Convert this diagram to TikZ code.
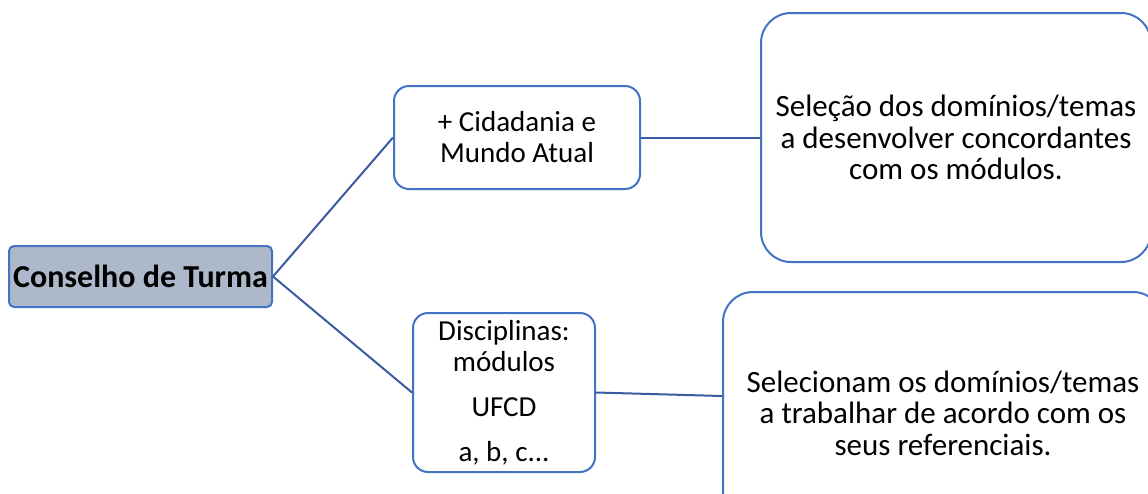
\documentclass[tikz,border=0pt]{standalone}
\usepackage{fontspec}
\setmainfont{Carlito}
\definecolor{bordc}{HTML}{4472C4}
\definecolor{linec}{HTML}{3A5BA0}
\definecolor{fillc}{HTML}{ADB9CA}
\begin{document}
\begin{tikzpicture}[x=1pt,y=-1pt,
  box/.style={draw=bordc, line width=2pt, fill=white, align=center, inner sep=0pt,
    font=\fontsize{29}{31}\selectfont, text=black},
  bigtext/.style={font=\fontsize{31}{31.5}\selectfont},
  conn/.style={draw=linec, line width=2pt}]
\useasboundingbox (0,0) rectangle (1148,493);
\clip (0,0) rectangle (1148,493);
\node[box, fill=fillc, rounded corners=5pt, minimum width=263pt, minimum height=61pt,
  font=\fontsize{32}{34}\selectfont\bfseries] (ct) at (140.5,276.5) {Conselho de Turma};
\node[box, rounded corners=15pt, minimum width=246pt, minimum height=103pt] (cid) at (517,137.5)
  {+ Cidadania e\\Mundo Atual};
\node[box, rounded corners=15pt, minimum width=182pt, minimum height=159pt] (disc) at (504,392.5)
  {Disciplinas:\\módulos\\[14pt]UFCD\\[14pt]a, b, c...};
\node[box, bigtext, rounded corners=30pt, minimum width=390pt, minimum height=249pt] (sel) at (956,137.5)
  {Seleção dos domínios/temas\\a desenvolver concordantes\\com os módulos.};
\node[box, bigtext, rounded corners=30pt, minimum width=440pt, minimum height=242pt] (selc) at (943,413)
  {Selecionam os domínios/temas\\a trabalhar de acordo com os\\seus referenciais.};
\draw[conn] (ct.east) -- (cid.west);
\draw[conn] (ct.east) -- (disc.west);
\draw[conn] (cid.east) -- (sel.west);
\draw[conn] (disc.east) -- ([yshift=17pt]selc.west);
\end{tikzpicture}
\end{document}
